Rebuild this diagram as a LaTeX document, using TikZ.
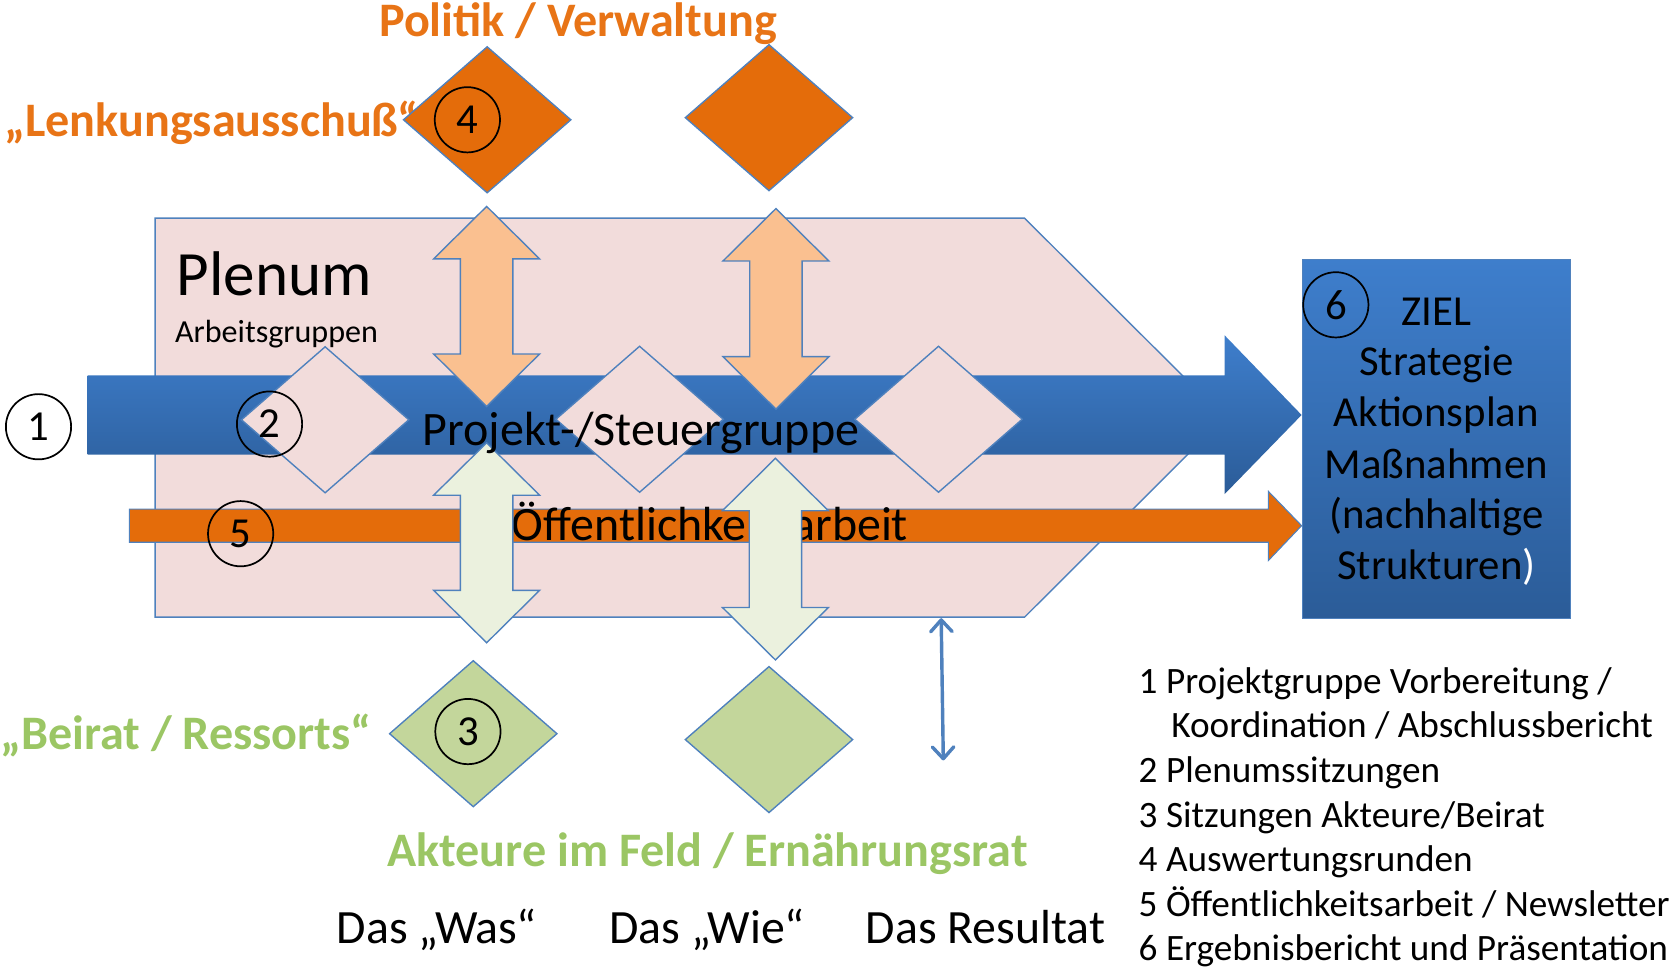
\documentclass[tikz,border=0pt]{standalone}
\usepackage{fontspec}
\setmainfont{Carlito}
\usetikzlibrary{shapes.geometric,arrows.meta}

\definecolor{pinkfill}{RGB}{242,220,219}
\definecolor{bordblue}{RGB}{79,129,189}
\definecolor{orangefill}{RGB}{228,108,10}
\definecolor{peach}{RGB}{250,192,144}
\definecolor{palegreen}{RGB}{235,241,222}
\definecolor{olivegreen}{RGB}{195,214,155}
\definecolor{bluetop}{RGB}{62,126,204}
\definecolor{bluebot}{RGB}{43,92,152}
\definecolor{orangetext}{RGB}{232,116,22}
\definecolor{greentext}{RGB}{155,198,100}

\newcommand{\fs}[1]{\fontsize{#1}{#1}\selectfont}
% vertical double arrow: center x, top y, bottom y, fill colour
\newcommand{\vdarrow}[4]{%
  \filldraw[shapeline, fill=#4] (#1,#2) -- ({#1+49.5},{#2+49}) -- ({#1+24.5},{#2+49})
    -- ({#1+24.5},{#3-49}) -- ({#1+49.5},{#3-49}) -- (#1,#3) -- ({#1-49.5},{#3-49})
    -- ({#1-24.5},{#3-49}) -- ({#1-24.5},{#2+49}) -- ({#1-49.5},{#2+49}) -- cycle;}

\begin{document}
\begin{tikzpicture}[x=1pt,y=-1pt,
  shapeline/.style={draw=bordblue, line width=1.3pt, line join=miter},
  dia/.style={diamond, shapeline, inner sep=0pt, minimum width=157pt, minimum height=137pt},
  numcirc/.style={circle, draw=black, line width=1.6pt, minimum size=61pt, inner sep=0pt, font=\fs{40}},
  lbl/.style={inner sep=0pt, anchor=base},
  orangelbl/.style={lbl, font=\fs{45}\bfseries, text=orangetext},
  greenlbl/.style={lbl, font=\fs{45}\bfseries, text=greentext},
  goaltxt/.style={lbl, font=\fs{40}},
  legend/.style={inner sep=0pt, anchor=base west, font=\fs{34.8}},
  bottomlbl/.style={lbl, font=\fs{44.7}},
  resarrow/.style={bordblue, line width=3.2pt,
    {Straight Barb[length=11pt,width=20pt,round]}-{Straight Barb[length=11pt,width=20pt,round]}},
]
\useasboundingbox (0,0) rectangle (1568,906);

% Plenum pentagon
\filldraw[shapeline, fill=pinkfill] (145,204) -- (958,204) -- (1145,390.5) -- (958,577) -- (145,577) -- cycle;

% big blue arrow
\path[top color=bluetop, bottom color=bluebot] (82,351) -- (1145,351) -- (1145,313.5) -- (1217,388)
  -- (1145,462) -- (1145,425) -- (82,425) -- cycle;

% orange bar arrow
\filldraw[draw=bordblue, line width=1pt, fill=orangefill] (121,476) -- (1186,476) -- (1186,459.5) -- (1217,491.5)
  -- (1186,524) -- (1186,507) -- (121,507) -- cycle;

\node[lbl, anchor=base west, font=\fs{44.8}] (oeff) at (478.5,505.5) {Öffentlichkeitsarbeit};

% pink diamonds on the blue arrow
\node[dia, fill=pinkfill] (p2) at (304,392.5) {};
\node[dia, fill=pinkfill] (pm) at (598,392) {};
\node[dia, fill=pinkfill] (pr) at (877.5,392) {};

% circled numbers
\node[numcirc] (c1) at (36,399) {1};
\node[numcirc] (c2) at (252,396.5) {2};
\node[numcirc] (c5) at (225,499) {5};

% vertical double arrows
\vdarrow{455}{193}{380}{peach}
\vdarrow{725.5}{195}{382.5}{peach}
\vdarrow{455}{414}{601}{palegreen}
\vdarrow{725}{428.5}{617}{palegreen}

\node[lbl, anchor=base west, font=\fs{44.9}] (proj) at (395,417) {Projekt-/Steuergruppe};

% Plenum labels
\node[lbl, anchor=base west, font=\fs{59}] (plenum) at (165,276) {Plenum};
\node[lbl, anchor=base west, font=\fs{30}] (ag) at (163.5,320) {Arbeitsgruppen};

% top: Politik / Verwaltung
\node[orangelbl] (pol) at (540.5,34) {Politik / Verwaltung};
\node[orangelbl, anchor=base west] (lenk) at (4,128) {„Lenkungsausschuß“};
\node[dia, fill=orangefill] (o1) at (455.5,112) {};
\node[dia, fill=orangefill] (o2) at (719,110) {};
\node[numcirc] (c4) at (437,112) {4};

% goal box
\node[draw=bordblue, line width=1pt, top color=bluetop, bottom color=bluebot, minimum width=251pt,
  minimum height=336pt, inner sep=0pt, anchor=north west] (goal) at (1217,242) {};
\node[goaltxt] (g1) at (1343,304) {ZIEL};
\node[goaltxt] (g2) at (1343,351) {Strategie};
\node[goaltxt] (g3) at (1343,399) {Aktionsplan};
\node[goaltxt] (g4) at (1343,447) {Maßnahmen};
\node[goaltxt] (g5) at (1343,494) {(nachhaltige};
\node[goaltxt] (g6) at (1343,542) {Strukturen\textcolor{white}{)}};
\node[numcirc] (c6) at (1249,285) {6};

% small result arrow
\coordinate (ra1) at (880,578);
\coordinate (ra2) at (882,711);
\draw[resarrow] (ra1) -- (ra2);

% bottom: Beirat / Akteure
\node[dia, fill=olivegreen] (g3d) at (442.5,686) {};
\node[dia, fill=olivegreen] (g2d) at (719,691.5) {};
\node[numcirc] (c3) at (437.5,684) {3};
\node[greenlbl, anchor=base west] (beirat) at (0,701) {„Beirat / Ressorts“};
\node[greenlbl] (akt) at (661.5,810) {Akteure im Feld / Ernährungsrat};

\node[bottomlbl] (was) at (408.5,882) {Das „Was“};
\node[bottomlbl] (wie) at (661,882) {Das „Wie“};
\node[bottomlbl] (res) at (921.5,882) {Das Resultat};

% legend
\node[legend] (l1) at (1064.5,648) {1 Projektgruppe Vorbereitung /};
\node[legend] (l1b) at (1095,689.5) {Koordination / Abschlussbericht};
\node[legend] (l2) at (1064.5,731.5) {2 Plenumssitzungen};
\node[legend] (l3) at (1064.5,773.5) {3 Sitzungen Akteure/Beirat};
\node[legend] (l4) at (1064.5,815) {4 Auswertungsrunden};
\node[legend] (l5) at (1064.5,856.5) {5 Öffentlichkeitsarbeit / Newsletter};
\node[legend] (l6) at (1064.5,898) {6 Ergebnisbericht und Präsentation};
\end{tikzpicture}
\end{document}
